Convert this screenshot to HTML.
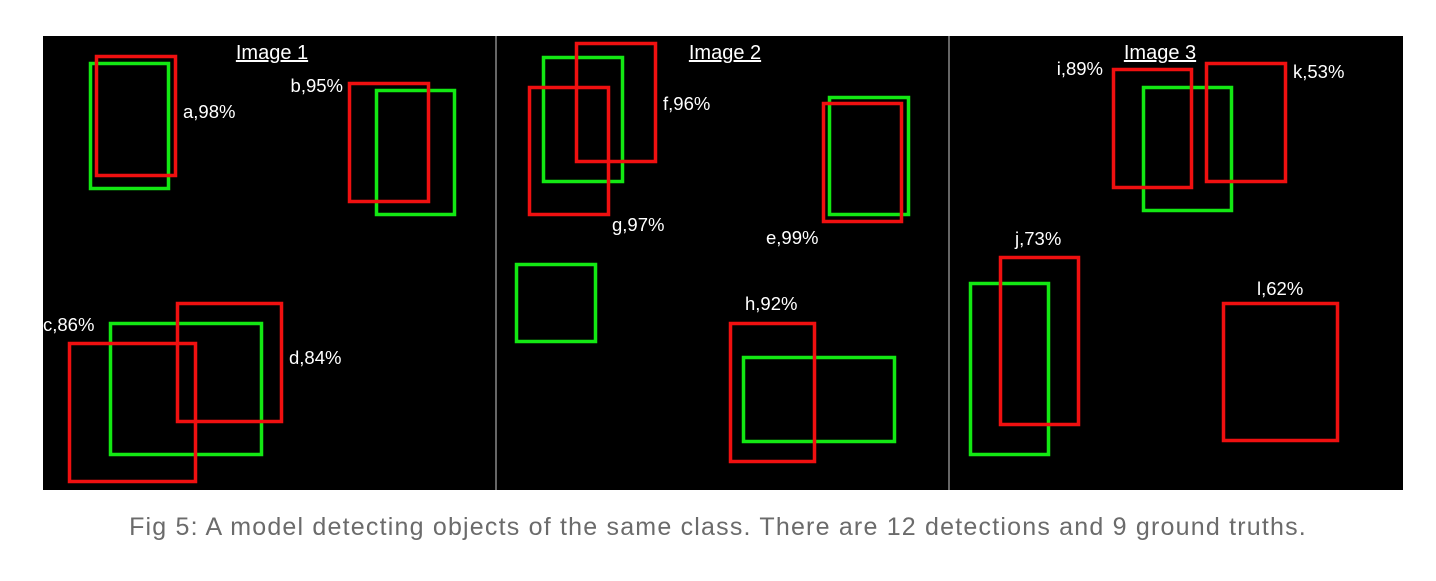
<!DOCTYPE html>
<html><head><meta charset="utf-8"><style>
html,body{margin:0;padding:0;background:#fff;width:1436px;height:581px;overflow:hidden}
svg{position:absolute;left:0;top:0}
.cap{position:absolute;left:0;width:1436px;top:513px;text-align:center;font-family:"Liberation Sans",sans-serif;font-size:25px;letter-spacing:1.2px;color:#6b6b6b}
</style></head><body>
<svg id="fig" width="1436" height="500" xmlns="http://www.w3.org/2000/svg">
<rect x="43" y="36" width="1360" height="454" fill="#000"/>
<line x1="496" y1="36" x2="496" y2="490" stroke="#888" stroke-width="1.5"/>
<line x1="949" y1="36" x2="949" y2="490" stroke="#888" stroke-width="1.5"/>
<g font-family="Liberation Sans, sans-serif" fill="#fff" font-size="20" text-anchor="middle" text-decoration="underline">
<text x="272" y="59">Image 1</text>
<text x="725" y="59">Image 2</text>
<text x="1160" y="59">Image 3</text>
</g>
</svg>
<div class="cap">Fig 5: A model detecting objects of the same class. There are 12 detections and 9 ground truths.</div>
<script>
// boxes: [x1,y1,x2,y2]
const gtBoxes=[[89,62,170,190],[375,89,456,216],[109,322,263,456],[542,56,624,183],[828,96,910,216],[515,263,597,343],[742,356,896,443],[1142,86,1233,212],[969,282,1050,456]];
const detBoxes=[[95,55,177,177],[348,82,430,203],[68,342,197,483],[176,302,283,423],[575,42,657,163],[528,86,610,216],[822,102,903,223],[729,322,816,463],[1112,68,1193,189],[1205,62,1287,183],[999,256,1080,426],[1222,302,1339,442]];
const labels=["a,98%","b,95%","c,86%","d,84%","f,96%","g,97%","e,99%","h,92%","i,89%","k,53%","j,73%","l,62%"];
const labelPos=[[183,118,"start"],[343,92,"end"],[43,331,"start"],[289,364,"start"],[663,110,"start"],[612,231,"start"],[766,244,"start"],[745,310,"start"],[1103,75,"end"],[1293,78,"start"],[1015,245,"start"],[1257,295,"start"]];
const NS="http://www.w3.org/2000/svg";
const svg=document.getElementById('fig');
function box(b,color,name){
  const r=document.createElementNS(NS,'rect');
  r.setAttribute('x',b[0]+1.5);r.setAttribute('y',b[1]+1.5);
  r.setAttribute('width',b[2]-b[0]-3);r.setAttribute('height',b[3]-b[1]-3);
  r.setAttribute('fill','none');r.setAttribute('stroke',color);r.setAttribute('stroke-width','3.5');
  
  
  svg.appendChild(r);
}
gtBoxes.forEach((b,i)=>box(b,'#13e813','ground-truth-box-'+(i+1)));
detBoxes.forEach((b,i)=>box(b,'#f01010','detection-box-'+labels[i][0]));
labels.forEach((t,i)=>{
  const p=labelPos[i];
  const e=document.createElementNS(NS,'text');
  e.setAttribute('x',p[0]);e.setAttribute('y',p[1]);e.setAttribute('text-anchor',p[2]);
  e.setAttribute('fill','#fff');e.setAttribute('font-size','18.5');
  e.setAttribute('font-family','Liberation Sans, sans-serif');
  e.textContent=t;
  
  
  svg.appendChild(e);
});
</script>
</body></html>
